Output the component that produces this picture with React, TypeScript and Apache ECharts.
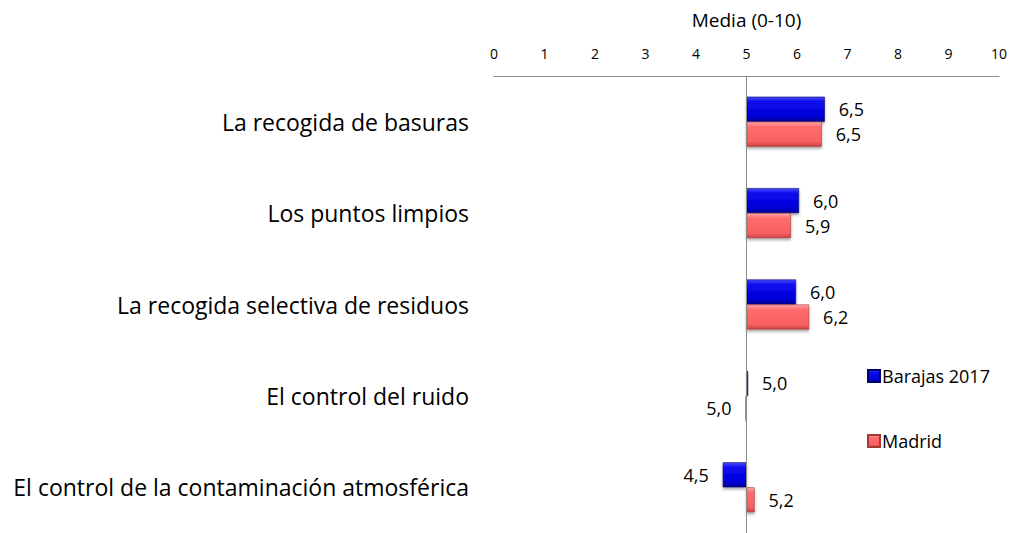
import React, { useEffect, useRef } from "react";
import * as echarts from "echarts";

const categories = [
  "La recogida de basuras",
  "Los puntos limpios",
  "La recogida selectiva de residuos",
  "El control del ruido",
  "El control de la contaminación atmosférica",
];
const barajas2017 = [6.55, 6.04, 5.98, 5.03, 4.53];
const madrid = [6.49, 5.88, 6.24, 4.98, 5.16];
const seriesNames = ["Barajas 2017", "Madrid"];
const tickLabels = ["0", "1", "2", "3", "4", "5", "6", "7", "8", "9", "10"];
const BASE = 5;
const FONT = "'Open Sans', Lato, sans-serif";

const fmt = (v: number) => v.toFixed(1).replace(".", ",");

const blueGrad = new echarts.graphic.LinearGradient(0, 0, 0, 1, [
  { offset: 0, color: "#4a4aff" },
  { offset: 0.2, color: "#0c0cf0" },
  { offset: 0.8, color: "#0000d6" },
  { offset: 1, color: "#000090" },
]);
const redGrad = new echarts.graphic.LinearGradient(0, 0, 0, 1, [
  { offset: 0, color: "#ffa8a8" },
  { offset: 0.2, color: "#ff6c6c" },
  { offset: 0.8, color: "#fa6060" },
  { offset: 1, color: "#c94444" },
]);

function buildData(vals: number[]) {
  return vals.map((v) => ({
    value: v - BASE,
    label: { position: v >= BASE ? "right" : "left" },
  }));
}

export default function App() {
  const ref = useRef<HTMLDivElement>(null);
  useEffect(() => {
    if (!ref.current) return;
    const chart = echarts.init(ref.current, null, { renderer: "svg" });
    const labelCfg = (vals: number[]) => ({
      show: true,
      distance: 14,
      fontSize: 18,
      fontFamily: FONT,
      color: "#000",
      formatter: (p: any) => fmt(vals[p.dataIndex]),
    });
    chart.setOption({
      animation: false,
      textStyle: { fontFamily: FONT },
      grid: { left: 494, right: 26, top: 76, bottom: 0 },
      legend: {
        orient: "vertical",
        left: 862,
        top: 362,
        itemGap: 47,
        itemWidth: 12,
        itemHeight: 12,
        icon: "rect",
        textStyle: { fontSize: 18, fontFamily: FONT, color: "#000", padding: [0, 0, 0, -3] },
        data: seriesNames,
      },
      xAxis: {
        type: "value",
        position: "top",
        min: -5,
        max: 5,
        interval: 1,
        name: "Media (0-10)",
        nameLocation: "middle",
        nameGap: 47,
        nameTextStyle: { fontSize: 19, fontFamily: FONT, color: "#000" },
        axisLine: { show: true, onZero: false, lineStyle: { color: "#8c8c8c", width: 1 } },
        axisTick: { show: false },
        splitLine: { show: false },
        axisLabel: {
          margin: 16,
          fontSize: 14,
          fontFamily: FONT,
          color: "#000",
          formatter: (v: number) => tickLabels[Math.round(v + BASE)],
        },
      },
      yAxis: {
        type: "category",
        inverse: true,
        data: categories,
        axisLine: { show: false, onZero: false },
        axisTick: { show: false },
        axisLabel: { margin: 25, fontSize: 23, fontFamily: FONT, color: "#000" },
      },
      series: [
        {
          name: seriesNames[0],
          type: "bar",
          data: buildData(barajas2017),
          barWidth: 25,
          barGap: "0%",
          itemStyle: {
            color: blueGrad,
            borderColor: "#00006e",
            borderWidth: 0.6,
            shadowColor: "rgba(0,0,0,0.35)",
            shadowBlur: 3,
            shadowOffsetY: 2,
          },
          label: labelCfg(barajas2017),
          markLine: {
            silent: true,
            symbol: "none",
            label: { show: false },
            lineStyle: { color: "#8c8c8c", width: 1, type: "solid" },
            data: [{ xAxis: 0 }],
          },
          z: 3,
        },
        {
          name: seriesNames[1],
          type: "bar",
          data: buildData(madrid),
          barWidth: 25,
          barGap: "0%",
          itemStyle: {
            color: redGrad,
            borderColor: "#a83838",
            borderWidth: 0.6,
            shadowColor: "rgba(0,0,0,0.35)",
            shadowBlur: 3,
            shadowOffsetY: 2,
          },
          label: labelCfg(madrid),
          z: 3,
        },
      ],
    });
    return () => chart.dispose();
  }, []);
  return (
    <div
      ref={ref}
      style={{ position: "fixed", left: 0, top: 0, width: 1025, height: 533, background: "#fff" }}
    />
  );
}
